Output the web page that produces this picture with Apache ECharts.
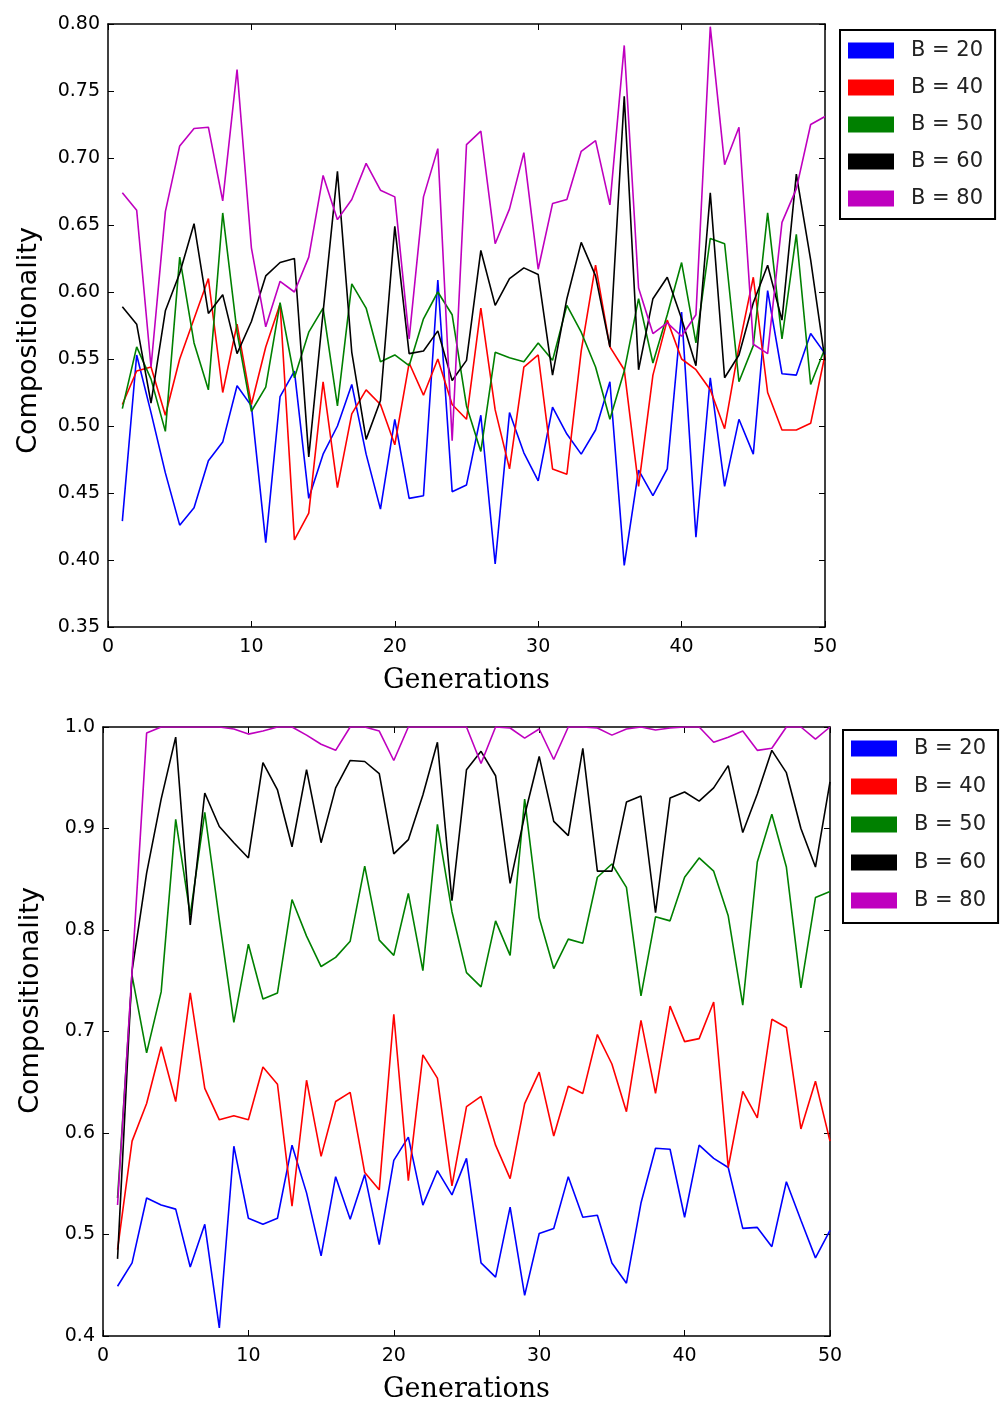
<!DOCTYPE html>
<html>
<head>
<meta charset="utf-8">
<script src="https://cdn.jsdelivr.net/npm/echarts@6/dist/echarts.min.js"></script>
<style>
  html, body { margin: 0; padding: 0; background: #fff; }
  #chart { width: 1000px; height: 1404px; }
</style>
</head>
<body>
<div id="chart"></div>
<script>
// ---- data ----
const generations = [1,2,3,4,5,6,7,8,9,10,11,12,13,14,15,16,17,18,19,20,21,22,23,24,25,26,27,28,29,30,31,32,33,34,35,36,37,38,39,40,41,42,43,44,45,46,47,48,49,50];
const seriesNames = ['B = 20', 'B = 40', 'B = 50', 'B = 60', 'B = 80'];
const xTicks = [0, 10, 20, 30, 40, 50];

// Top panel
const top20 = [0.429,0.553,0.510,0.465,0.426,0.439,0.474,0.488,0.530,0.515,0.413,0.522,0.541,0.446,0.479,0.500,0.531,0.479,0.438,0.505,0.446,0.448,0.609,0.451,0.456,0.508,0.397,0.510,0.480,0.459,0.514,0.494,0.479,0.497,0.533,0.396,0.467,0.448,0.468,0.585,0.417,0.536,0.455,0.505,0.479,0.601,0.539,0.538,0.569,0.554];
const top40 = [0.516,0.541,0.544,0.508,0.550,0.580,0.610,0.525,0.576,0.516,0.559,0.591,0.415,0.435,0.533,0.454,0.509,0.527,0.516,0.486,0.547,0.523,0.550,0.516,0.505,0.588,0.512,0.468,0.544,0.553,0.468,0.464,0.556,0.620,0.559,0.542,0.455,0.538,0.579,0.550,0.542,0.527,0.498,0.559,0.611,0.525,0.497,0.497,0.502,0.553];
const top50 = [0.513,0.559,0.535,0.496,0.626,0.562,0.527,0.659,0.570,0.511,0.529,0.592,0.536,0.570,0.588,0.515,0.606,0.588,0.548,0.553,0.545,0.580,0.600,0.583,0.515,0.481,0.555,0.551,0.548,0.562,0.549,0.590,0.570,0.544,0.505,0.541,0.595,0.547,0.583,0.622,0.562,0.640,0.636,0.533,0.560,0.659,0.565,0.643,0.531,0.558];
const top60 = [0.589,0.576,0.517,0.586,0.614,0.651,0.584,0.598,0.554,0.578,0.612,0.622,0.625,0.477,0.585,0.690,0.555,0.490,0.519,0.649,0.554,0.556,0.571,0.534,0.549,0.631,0.590,0.610,0.618,0.613,0.538,0.595,0.637,0.612,0.559,0.746,0.542,0.595,0.611,0.580,0.545,0.674,0.536,0.553,0.592,0.620,0.579,0.688,0.624,0.549];
const top80 = [0.674,0.661,0.544,0.660,0.709,0.722,0.723,0.668,0.766,0.633,0.574,0.608,0.600,0.626,0.687,0.654,0.669,0.696,0.676,0.671,0.565,0.671,0.707,0.489,0.710,0.720,0.636,0.662,0.704,0.617,0.666,0.669,0.705,0.713,0.665,0.784,0.603,0.569,0.577,0.567,0.583,0.798,0.695,0.723,0.561,0.554,0.652,0.677,0.725,0.731];
const topYTicks = { min: 0.35, max: 0.80, step: 0.05 };

// Bottom panel
const bot20 = [0.449,0.472,0.536,0.529,0.525,0.468,0.510,0.408,0.587,0.516,0.510,0.516,0.588,0.541,0.479,0.557,0.515,0.559,0.490,0.573,0.596,0.529,0.563,0.539,0.575,0.472,0.458,0.527,0.440,0.501,0.506,0.557,0.517,0.519,0.472,0.452,0.531,0.585,0.584,0.517,0.588,0.575,0.566,0.506,0.507,0.488,0.552,0.514,0.477,0.504];
const bot40 = [0.485,0.592,0.629,0.685,0.631,0.738,0.644,0.613,0.617,0.613,0.665,0.648,0.528,0.652,0.577,0.631,0.640,0.561,0.544,0.717,0.553,0.677,0.654,0.548,0.626,0.636,0.588,0.555,0.629,0.660,0.597,0.646,0.639,0.697,0.668,0.621,0.711,0.639,0.725,0.690,0.693,0.729,0.566,0.641,0.615,0.712,0.704,0.604,0.651,0.592];
const bot50 = [0.536,0.755,0.679,0.739,0.909,0.815,0.916,0.810,0.709,0.786,0.732,0.738,0.830,0.794,0.764,0.773,0.789,0.863,0.790,0.775,0.836,0.760,0.904,0.818,0.758,0.744,0.809,0.775,0.929,0.812,0.762,0.791,0.787,0.852,0.865,0.842,0.735,0.813,0.809,0.852,0.871,0.858,0.814,0.726,0.867,0.914,0.862,0.743,0.832,0.838];
const bot60 = [0.476,0.760,0.856,0.929,0.990,0.805,0.935,0.902,0.886,0.871,0.965,0.938,0.882,0.958,0.886,0.940,0.967,0.966,0.954,0.875,0.889,0.933,0.985,0.829,0.958,0.976,0.952,0.846,0.913,0.971,0.907,0.893,0.979,0.858,0.858,0.926,0.932,0.817,0.930,0.936,0.927,0.940,0.962,0.896,0.934,0.977,0.955,0.900,0.862,0.946];
const bot80 = [0.529,0.760,0.994,1.0,1.0,1.0,1.0,1.0,0.998,0.993,0.996,1.0,1.0,0.992,0.983,0.977,1.0,1.0,0.996,0.967,1.0,1.0,1.0,1.0,1.0,0.964,1.0,0.999,0.989,0.998,0.968,1.0,1.0,0.999,0.992,0.998,1.0,0.997,0.999,1.0,1.0,0.985,0.990,0.996,0.977,0.979,1.0,1.0,0.988,1.0];
const botYTicks = { min: 0.4, max: 1.0, step: 0.1 };

// ---- styling ----
const colors = ['#0000ff', '#ff0000', '#008000', '#000000', '#bf00bf'];
const tickFont = 'DejaVu Sans';

const chart = echarts.init(document.getElementById('chart'), null, { renderer: 'canvas' });

function pairs(arr) { return generations.map((g, i) => [g, arr[i]]); }

const axisLine = { show: true, onZero: false, lineStyle: { color: '#000', width: 1.5 } };
const axisTick = { show: true, inside: true, length: 6, lineStyle: { color: '#000', width: 1 } };

function xAxes(gridIndex, nameGap) {
  return [
    {
      type: 'value', gridIndex, position: 'bottom', min: xTicks[0], max: xTicks[xTicks.length - 1], interval: 10,
      axisLine, axisTick, splitLine: { show: false },
      axisLabel: { color: '#000', fontFamily: tickFont, fontSize: 19, margin: 11 },
      name: 'Generations', nameLocation: 'middle', nameGap,
      nameTextStyle: { fontFamily: 'DejaVu Serif', fontSize: 27, color: '#000' }
    },
    {
      type: 'value', gridIndex, position: 'top', min: xTicks[0], max: xTicks[xTicks.length - 1], interval: 10,
      axisLine, axisTick, splitLine: { show: false }, axisLabel: { show: false }
    }
  ];
}

function yAxes(gridIndex, t, decimals, nameGap, namePadding) {
  return [
    {
      type: 'value', gridIndex, position: 'left', min: t.min, max: t.max, interval: t.step,
      axisLine, axisTick, splitLine: { show: false },
      axisLabel: { color: '#000', fontFamily: tickFont, fontSize: 19, margin: 8,
        formatter: v => v.toFixed(decimals) },
      name: 'Compositionality', nameLocation: 'middle', nameGap,
      nameTextStyle: { fontFamily: 'DejaVu Sans', fontSize: 27, color: '#000', padding: namePadding }
    },
    {
      type: 'value', gridIndex, position: 'right', min: t.min, max: t.max, interval: t.step,
      axisLine, axisTick, splitLine: { show: false }, axisLabel: { show: false }
    }
  ];
}

function lineSeries(name, arr, idx, axisIdx) {
  return {
    name, type: 'line', data: pairs(arr), xAxisIndex: axisIdx, yAxisIndex: axisIdx,
    symbol: 'none', smooth: false, animation: false,
    lineStyle: { color: colors[idx], width: 1.6 }, itemStyle: { color: colors[idx] }
  };
}

function legend(left, top, gap, padding) {
  return {
    orient: 'vertical', left, top, selectedMode: false, data: seriesNames,
    icon: 'rect', itemWidth: 46, itemHeight: 16, itemGap: gap,
    borderColor: '#000', borderWidth: 2, backgroundColor: '#fff', borderRadius: 0,
    padding,
    textStyle: { fontFamily: 'DejaVu Sans', fontSize: 21, color: '#222', lineHeight: 20, padding: [0, 0, 0, 12] }
  };
}

const topData = [top20, top40, top50, top60, top80];
const botData = [bot20, bot40, bot50, bot60, bot80];

const option = {
  backgroundColor: '#fff',
  animation: false,
  color: colors,
  grid: [
    { left: 108, right: 175, top: 24, height: 603, containLabel: false },
    { left: 103, right: 170, top: 727, height: 612, containLabel: false }
  ],
  xAxis: [...xAxes(0, 40), ...xAxes(1, 40)],
  yAxis: [...yAxes(0, topYTicks, 2, 66, [0, 30, 0, 0]), ...yAxes(1, botYTicks, 1, 59, [0, 0, 0, 62])],
  legend: [
    legend(840, 30, 16, [10, 12, 10, 8]),
    legend(843, 730, 17, [8, 12, 12, 8])
  ],
  series: [
    ...topData.map((d, i) => lineSeries(seriesNames[i], d, i, 0)),
    ...botData.map((d, i) => lineSeries(seriesNames[i], d, i, 2))
  ]
};

chart.setOption(option);
</script>
</body>
</html>
